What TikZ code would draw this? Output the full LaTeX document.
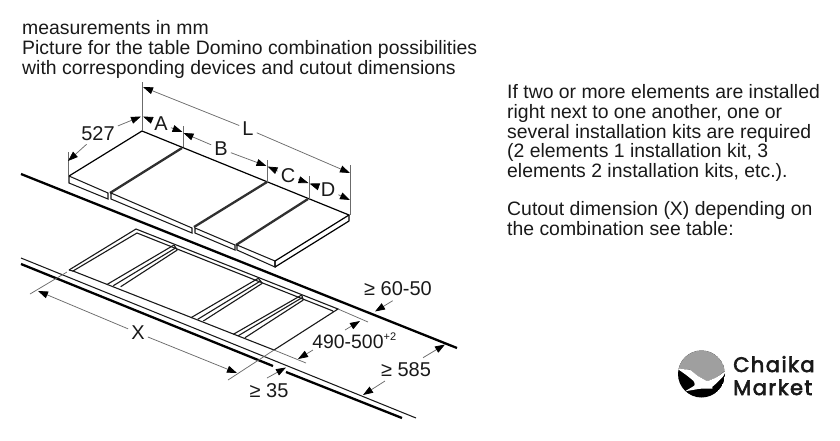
\documentclass[tikz,border=0pt]{standalone}
\usepackage{fontspec}
\setmainfont{Liberation Sans}
\newfontfamily\logofont[LetterSpace=7,FakeBold=3]{Poppins}
\usetikzlibrary{arrows.meta}
\definecolor{ink}{gray}{0.1}
\definecolor{dimgray}{gray}{0.42}
\tikzset{
  body/.style={draw=black,line width=1.2pt,line cap=round,line join=round},
  joint/.style={draw=ink!90,line width=2.3pt},
  heavy/.style={draw=black,line width=2.3pt},
  thinedge/.style={draw=ink,line width=1.05pt},
  cutline/.style={draw=ink,line width=1.1pt},
  ext/.style={draw=dimgray,line width=.75pt},
  dim/.style={draw=dimgray,line width=.75pt},
  tip/.style={-{Triangle[length=10pt,width=7pt,fill=black,color=black]}},
  para/.style={font=\fontsize{19.4}{19.7}\selectfont,text=ink,align=left,anchor=north west,inner sep=0pt},
  lab/.style={font=\fontsize{20}{22}\selectfont,text=ink,inner sep=3pt}
}
\begin{document}
\begin{tikzpicture}[x=1pt,y=-1pt]
\useasboundingbox (0,0) rectangle (840,440);
% texts
\node[para] (head) at (22,20.5) {measurements in mm\\Picture for the table Domino combination possibilities\\with corresponding devices and cutout dimensions};
\node[para] (info) at (507,84.5) {If two or more elements are installed\\right next to one another, one or\\several installation kits are required\\(2 elements 1 installation kit, 3\\elements 2 installation kits, etc.).};
\node[para] (cut) at (507,201.5) {Cutout dimension (X) depending on\\the combination see table:};
% slab
\coordinate (sL) at (69,176);
\coordinate (sB) at (142,131);
\coordinate (sR) at (349,215);
\coordinate (sF) at (275,261);
\draw[body] (sL) -- (sB) -- (sR) -- (sF);
\draw[body] (sR) -- (349,221) -- (275,267) -- (sF);
\draw[joint] (182,148) -- (110,193);
\draw[joint] (267,182) -- (194,227);
\draw[joint] (308,199) -- (236,245);
\draw[thinedge] (sL) -- (108,193) -- (108,199) -- (69,183) -- cycle;
\draw[thinedge] (111,193) -- (192,228) -- (192,233) -- (111,199) -- cycle;
\draw[thinedge] (195,228) -- (235,245) -- (235,250) -- (195,233) -- cycle;
\draw[thinedge] (237,245) -- (sF) -- (275,267) -- (237,250) -- cycle;
% counter
\draw[heavy] (21,174) -- (457,348);
\draw[thinedge] (21,258) -- (416,418);
\draw[heavy] (21,264) -- (273,366);
\draw[heavy] (286,372) -- (402,418);
% cutout
\coordinate (cL) at (69,270);
\coordinate (cB) at (136,229);
\coordinate (cR) at (338,309);
\coordinate (cF) at (274,350);
\draw[cutline] (cL) -- (cB) -- (cR) -- (cF) -- (73,271) -- (137,233) -- (333,311);
\draw[cutline] (cL) -- (73,271);
\draw[cutline] (174,245) -- (107.3,284.3) (176,247.7) -- (113.3,285.7) (177.3,250) -- (120.7,286.7) (174,245) -- (177.3,250);
\draw[cutline] (258.3,278.3) -- (191,317.7) (261,280.7) -- (197.7,319.3) (262.3,283.3) -- (203.3,321) (258.3,278.3) -- (262.3,283.3);
\draw[cutline] (301.7,295) -- (233.3,334.3) (302.7,297.3) -- (238.3,335.7) (303.3,300) -- (245,337.7) (301.7,295) -- (303.3,300);
% extension lines
\draw[ext] (142,82) -- (sB);
\draw[ext] (68,152) -- (68,176);
\draw[ext] (183,126) -- (183,147);
\draw[ext] (267,160) -- (267,182);
\draw[ext] (309,176) -- (309,199);
\draw[ext] (350,165) -- (350,215);
\draw[ext] (30,294) -- (67,272);
\draw[ext] (228,380) -- (cF);
\draw[ext] (cR) -- (368,322);
\draw[ext] (cF) -- (306,363);
% top dimensions
\node[lab] (labL) at (248,129) {L};
\node[lab] (labA) at (161,124) {A};
\node[lab] (labB) at (221,149) {B};
\node[lab] (labC) at (288,176) {C};
\node[lab] (labD) at (328,190) {D};
\node[lab] (lab527) at (98,134) {527};
\node[lab] (labX) at (138,333) {X};
\coordinate (tL1) at (143,87); \coordinate (tL2) at (350,173);
\coordinate (tA1) at (143,116.5); \coordinate (tA2) at (182.5,132);
\coordinate (tB1) at (183.5,133); \coordinate (tB2) at (266.5,166);
\coordinate (tC1) at (267.5,166.5); \coordinate (tC2) at (308.5,183);
\coordinate (tD1) at (309.5,183.5); \coordinate (tD2) at (350,200);
\coordinate (t5a) at (141,116.5); \coordinate (t5b) at (68,161);
\coordinate (tXa) at (38,291); \coordinate (tXb) at (237,373);
\draw[dim,tip] (labL) -- (tL1);
\draw[dim,tip] (labL) -- (tL2);
\draw[dim,tip] (labA) -- (tA1);
\draw[dim,tip] (labA) -- (tA2);
\draw[dim,tip] (labB) -- (tB1);
\draw[dim,tip] (labB) -- (tB2);
\draw[dim,tip] (labC) -- (tC1);
\draw[dim,tip] (labC) -- (tC2);
\draw[dim,tip] (labD) -- (tD1);
\draw[dim,tip] (labD) -- (tD2);
\draw[dim,tip] (lab527) -- (t5a);
\draw[dim,tip] (lab527) -- (t5b);
\draw[dim,tip] (labX) -- (tXa);
\draw[dim,tip] (labX) -- (tXb);
% lower-right dimensions
\node[lab,font=\fontsize{19.4}{22}\selectfont] (lab490) at (354.5,340.5) {490-500\textsuperscript{\fontsize{11}{12}\selectfont+2}};
\node[lab] (lab60) at (398,289) {≥ 60-50};
\node[lab] (lab585) at (406,370) {≥ 585};
\node[lab] (lab35) at (269,391) {≥ 35};
\coordinate (t60) at (375,311.5);
\coordinate (t585a) at (445,344.5); \coordinate (t585b) at (363,395);
\coordinate (t49a) at (360,321); \coordinate (t49b) at (298,359);
\coordinate (t35) at (286,367.5);
\draw[dim,tip] (392.7,300.7) coordinate (n60) -- (t60);
\draw[dim,tip] (423,357.7) coordinate (n585a) -- (t585a);
\draw[dim,tip] (385,381) coordinate (n585b) -- (t585b);
\draw[dim,tip] (345,330) coordinate (n49a) -- (t49a);
\draw[dim,tip] (313,350) coordinate (n49b) -- (t49b);
\draw[dim,tip] (267,378) coordinate (n35) -- (t35);
% logo
\begin{scope}
\clip (701.5,374) circle (23.5);
\fill[black] (701.5,374) circle (23.5);
\fill[gray!75] (670,340) -- (735,340) -- (735,370.7) -- (725,370.7) -- (716.7,377.3) -- (707.3,381.3) -- (698.3,376.3) -- (690,369.7) -- (670,368.7) -- cycle;
\end{scope}
\fill[white,rounded corners=1pt] (677.3,368.7) -- (690,369.7) -- (698.3,376.3) -- (707.3,381.3) -- (716.7,377.3) -- (726,370.7) -- (723.3,376.3) -- (716.7,383) -- (711.7,387.3) -- (713.3,388.7) -- (700,388.7) -- (685,391.3) -- (695,385.3) -- (694,381.3) -- (686.7,375.3) -- cycle;
\node[font=\logofont\fontsize{21}{23}\selectfont,text=ink,anchor=base west,inner sep=0pt] (brand1) at (733,372) {Chaika};
\node[font=\logofont\fontsize{21}{23}\selectfont,text=ink,anchor=base west,inner sep=0pt] (brand2) at (733,395) {Market};
\end{tikzpicture}
\end{document}
